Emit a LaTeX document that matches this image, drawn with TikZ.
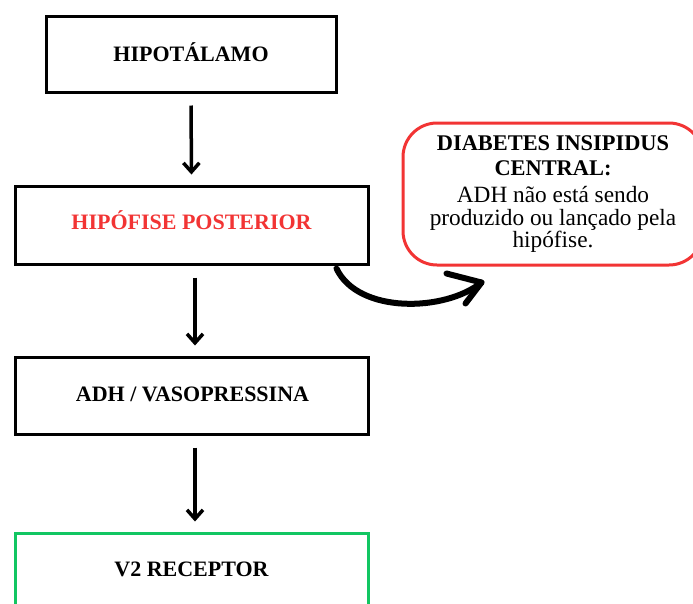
\documentclass[tikz,border=0pt]{standalone}
\usepackage{fontspec}
\setmainfont{Liberation Serif}
\usetikzlibrary{arrows.meta,calc}
\definecolor{myred}{RGB}{242,52,52}
\definecolor{mygreen}{RGB}{18,198,98}
\begin{document}
\begin{tikzpicture}[x=1pt,y=-1pt,
  flowbox/.style={draw=black,line width=3pt,fill=white,inner sep=0pt},
  downarrow/.style={line width=3.5pt,-{Straight Barb[length=9pt,width=16pt,line width=3.5pt]},
    shorten <=12pt,shorten >=10pt},
  txt/.style={anchor=base,inner sep=0pt,font=\fontsize{23.3}{25}\selectfont},
  ttl/.style={anchor=base,inner sep=0pt,font=\fontsize{22.4}{24}\selectfont\bfseries}]
\useasboundingbox (0,0) rectangle (693,603);
\clip (0,0) rectangle (693,603);
\fill[white] (0,0) rectangle (693,603);

\node[flowbox,minimum width=290pt,minimum height=76pt] (b1) at (191,54) {};
\node[ttl,font=\fontsize{22}{24}\selectfont\bfseries] (t1) at (191,61) {HIPOTÁLAMO};

\node[flowbox,minimum width=353pt,minimum height=78pt] (b2) at (191.5,225) {};
\node[ttl,font=\fontsize{22}{24}\selectfont\bfseries,text=myred] (t2) at (191.5,229) {HIPÓFISE POSTERIOR};

\node[flowbox,minimum width=353pt,minimum height=77pt] (b3) at (191.5,395.5) {};
\node[ttl,font=\fontsize{22}{24}\selectfont\bfseries] (t3) at (192.5,401) {ADH / VASOPRESSINA};

\node[flowbox,draw=mygreen,minimum width=353pt,minimum height=77pt] (b4) at (191.5,571.5) {};
\node[ttl,font=\fontsize{22}{24}\selectfont\bfseries] (t4) at (191.5,576) {V2 RECEPTOR};

\draw[downarrow] (b1.south) -- (b2.north);
\draw[downarrow] ([xshift=3.5pt]b2.south) -- ([xshift=3.5pt]b3.north);
\draw[downarrow] ([xshift=3.5pt]b3.south) -- ([xshift=3.5pt]b4.north);

\node[draw=myred,line width=3pt,rounded corners=34pt,fill=white,inner sep=0pt,
  minimum width=300pt,minimum height=142pt] (d) at (553,194) {};
\node[anchor=north,inner sep=0pt,align=center,font=\fontsize{22.4}{25}\selectfont\bfseries]
  (d1) at (553,135.5) {DIABETES INSIPIDUS\\CENTRAL:};
\node[txt] (d3) at (553,202) {ADH não está sendo};
\node[txt] (d4) at (553,225) {produzido ou lançado pela};
\node[txt] (d5) at (553,247) {hipófise.};

\coordinate (cs) at ($(b2.south east)+(-33,3)$);
\coordinate (ce) at ($(d.south west)+(80,16)$);
\draw[line width=6pt,line cap=round] (cs) .. controls (358,314) and (445,312) .. (ce);
\draw[line width=6pt,line cap=round,line join=round] ($(ce)+(-35,-9)$) -- (ce) -- ($(ce)+(-16,21)$);
\end{tikzpicture}
\end{document}
